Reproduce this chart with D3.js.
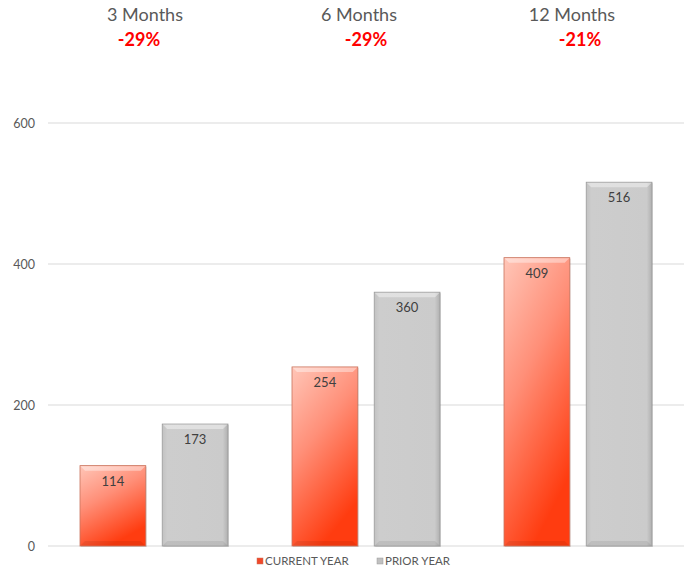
<!DOCTYPE html>
<html>
<head>
<meta charset="utf-8">
<script src="https://cdn.jsdelivr.net/npm/d3@7"></script>
<style>
  body { margin: 0; background: #fff; }
  text { font-family: "Lato", "DejaVu Sans", sans-serif; }
</style>
</head>
<body>
<div id="chart-area"></div>
<script>
// chart data
var periods = ['3 Months', '6 Months', '12 Months'];
var changes = ['-29%', '-29%', '-21%'];
var currentYear = [114, 254, 409];
var priorYear = [173, 360, 516];
var seriesNames = ['CURRENT YEAR', 'PRIOR YEAR'];
var yTicks = [0, 200, 400, 600];

var width = 688, height = 573;
var margin = { left: 48, right: 4, top: 123, bottom: 27 };

var svg = d3.select('#chart-area')
  .append('svg')
    .attr('width', width)
    .attr('height', height);

var defs = svg.append('defs');

// gradient for the current year bars
var grad = defs.append('linearGradient')
  .attr('id', 'redGrad')
  .attr('x1', '0').attr('y1', '0')
  .attr('x2', '0.45').attr('y2', '1');
grad.append('stop').attr('offset', '0%').attr('stop-color', '#ffc6b8');
grad.append('stop').attr('offset', '45%').attr('stop-color', '#ff8f78');
grad.append('stop').attr('offset', '100%').attr('stop-color', '#ff3c10');

var greyGrad = defs.append('linearGradient')
  .attr('id', 'greyGrad')
  .attr('x1', '0').attr('y1', '0').attr('x2', '1').attr('y2', '0');
greyGrad.append('stop').attr('offset', '0%').attr('stop-color', '#c2c2c2');
greyGrad.append('stop').attr('offset', '8%').attr('stop-color', '#cdcdcd');
greyGrad.append('stop').attr('offset', '92%').attr('stop-color', '#cbcbcb');
greyGrad.append('stop').attr('offset', '100%').attr('stop-color', '#b0b0b0');

var x = d3.scaleBand()
  .domain(periods)
  .range([margin.left, width - margin.right])
  .paddingInner(0)
  .paddingOuter(0);

var xInner = d3.scaleBand()
  .domain(seriesNames)
  .range([32, x.bandwidth() - 32])
  .paddingInner(0.2);

var y = d3.scaleLinear()
  .domain([0, 600])
  .range([height - margin.bottom, margin.top]);

// gridlines
svg.append('g')
  .selectAll('line')
  .data(yTicks)
  .enter()
  .append('line')
    .attr('x1', margin.left)
    .attr('x2', width - margin.right)
    .attr('y1', d => y(d))
    .attr('y2', d => y(d))
    .attr('stroke', '#d9d9d9')
    .attr('stroke-width', 1.2);

// y axis labels
var yAxis = d3.axisLeft(y).tickValues(yTicks).tickSize(0).tickPadding(13);
svg.append('g')
  .attr('transform', `translate(${margin.left},0)`)
  .call(yAxis)
  .call(g => g.select('.domain').remove())
  .selectAll('text')
    .attr('fill', '#595959')
    .attr('font-size', '12.5px')
    .attr('font-family', '"Lato", "DejaVu Sans", sans-serif');

// build bar rows
var rows = [];
periods.forEach(function (p, i) {
  rows.push({ period: p, series: seriesNames[0], value: currentYear[i] });
  rows.push({ period: p, series: seriesNames[1], value: priorYear[i] });
});

var bars = svg.append('g')
  .selectAll('g')
  .data(rows)
  .enter()
  .append('g')
    .attr('transform', d => `translate(${x(d.period) + xInner(d.series)},0)`);

// drop shadow
bars.append('rect')
  .attr('x', 1)
  .attr('y', d => y(d.value) + 1)
  .attr('width', xInner.bandwidth())
  .attr('height', d => y(0) - y(d.value))
  .attr('fill', '#000')
  .attr('opacity', 0.12);

bars.append('rect')
  .attr('y', d => y(d.value))
  .attr('width', xInner.bandwidth())
  .attr('height', d => y(0) - y(d.value))
  .attr('fill', d => d.series === seriesNames[0] ? 'url(#redGrad)' : 'url(#greyGrad)')
  .attr('stroke', d => d.series === seriesNames[0] ? '#c9735c' : '#9a9a9a')
  .attr('stroke-width', 0.8);

// bevel highlight on top
bars.append('path')
  .attr('d', function (d) {
    var w = xInner.bandwidth(), t = y(d.value);
    return `M0.5,${t + 0.5} L${w - 0.5},${t + 0.5} L${w - 5},${t + 5} L5,${t + 5} Z`;
  })
  .attr('fill', '#fff')
  .attr('opacity', 0.4);

// bevel shade at bottom
bars.append('path')
  .attr('d', function (d) {
    var w = xInner.bandwidth(), b = y(0);
    return `M0.5,${b - 0.5} L${w - 0.5},${b - 0.5} L${w - 5},${b - 5} L5,${b - 5} Z`;
  })
  .attr('fill', '#000')
  .attr('opacity', 0.07);

// value labels
bars.append('text')
  .attr('x', xInner.bandwidth() / 2)
  .attr('y', d => y(d.value) + 20)
  .attr('text-anchor', 'middle')
  .attr('font-size', '13px')
  .attr('fill', '#404040')
  .text(d => d.value);

// titles above each group
var titleOffsets = [-9, -7, -6];
var changeOffsets = [-15, 0, 2];
svg.append('g')
  .selectAll('text')
  .data(periods)
  .enter()
  .append('text')
    .attr('x', (d, i) => x(d) + x.bandwidth() / 2 + titleOffsets[i])
    .attr('y', 21)
    .attr('text-anchor', 'middle')
    .attr('font-size', '18px')
    .attr('fill', '#595959')
    .text(d => d);

svg.append('g')
  .selectAll('text')
  .data(changes)
  .enter()
  .append('text')
    .attr('x', (d, i) => x(periods[i]) + x.bandwidth() / 2 + changeOffsets[i])
    .attr('y', 46)
    .attr('text-anchor', 'middle')
    .attr('font-size', '18px')
    .attr('font-weight', 'bold')
    .attr('fill', '#ff0000')
    .text(d => d);

// legend
var legend = svg.append('g')
  .selectAll('g')
  .data(seriesNames)
  .enter()
  .append('g')
    .attr('transform', (d, i) => `translate(${257 + i * 120},558)`);

legend.append('rect')
  .attr('width', 6)
  .attr('height', 6)
  .attr('fill', (d, i) => i === 0 ? '#f0482a' : '#c0c0c0')
  .attr('stroke', (d, i) => i === 0 ? '#c9735c' : '#9a9a9a')
  .attr('stroke-width', 0.5);

legend.append('text')
  .attr('x', 8)
  .attr('y', 7)
  .attr('font-size', '11.5px')
  .attr('fill', '#595959')
  .text(d => d);
</script>
</body>
</html>
